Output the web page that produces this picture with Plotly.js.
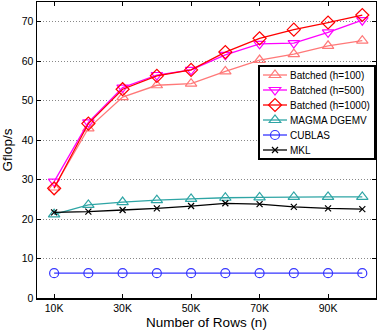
<!DOCTYPE html>
<html>
<head>
<meta charset="utf-8">
<script src="https://cdn.plot.ly/plotly-3.0.1.min.js"></script>
<style>html,body{margin:0;padding:0;background:#fff;}#chart{width:377px;height:334px;}</style>
</head>
<body>
<div id="chart"></div>
<script>
const rows = [10000, 20000, 30000, 40000, 50000, 60000, 70000, 80000, 90000, 100000];
const batched100 = [28.0, 43.0, 50.9, 53.9, 54.3, 57.4, 60.3, 61.8, 63.9, 65.2];
const batched500 = [29.5, 44.5, 53.3, 56.5, 57.8, 61.6, 64.4, 64.6, 67.3, 70.4];
const batched1000 = [27.8, 44.2, 52.9, 56.3, 57.8, 62.3, 65.8, 68.0, 69.8, 71.7];
const magma = [21.2, 23.6, 24.3, 24.8, 25.1, 25.4, 25.5, 25.6, 25.6, 25.6];
const cublas = [6.3, 6.3, 6.3, 6.3, 6.3, 6.3, 6.3, 6.3, 6.3, 6.3];
const mkl = [21.7, 21.9, 22.3, 22.7, 23.3, 24.0, 23.8, 23.1, 22.7, 22.5];
const xTickVals = [10000, 30000, 50000, 70000, 90000];
const xTickText = ['10K', '30K', '50K', '70K', '90K'];
const yTickVals = [0, 10, 20, 30, 40, 50, 60, 70];

const font = 'Liberation Sans, Arial, Helvetica, sans-serif';
function tr(name, y, color, symbol, size, lw) {
  return {
    x: rows, y: y, name: name, type: 'scatter', mode: 'lines+markers',
    line: {color: color, width: lw || 1.3},
    marker: {symbol: symbol, size: size, color: color, line: {color: color, width: 1.2}}
  };
}
const data = [
  tr('Batched (h=100)', batched100, '#FF7878', 'triangle-up-open', 10),
  tr('Batched (h=500)', batched500, '#FF00FF', 'triangle-down-open', 10),
  tr('Batched (h=1000)', batched1000, '#FF0000', 'diamond-open', 10),
  tr('MAGMA DGEMV', magma, '#2EA5A5', 'triangle-up-open', 10),
  tr('CUBLAS', cublas, '#3535FF', 'circle-open', 9),
  tr('MKL', mkl, '#000000', 'x-thin-open', 6)
];
const layout = {
  width: 377, height: 334,
  margin: {l: 37, r: 1, t: 2, b: 36},
  paper_bgcolor: '#fff', plot_bgcolor: '#fff',
  font: {family: font, size: 10.5, color: '#000'},
  showlegend: true,
  xaxis: {
    range: [5000, 104000], tickvals: xTickVals, ticktext: xTickText,
    ticks: 'inside', ticklen: 4, tickcolor: '#000', showline: true, linecolor: '#000', linewidth: 1.5,
    mirror: 'ticks', showgrid: false, zeroline: false,
    tickfont: {family: font, size: 10.5},
    title: {text: 'Number of Rows (n)', font: {family: font, size: 13.5}, standoff: 4}
  },
  yaxis: {
    range: [0, 75], tickvals: yTickVals,
    ticks: 'inside', ticklen: 4, tickcolor: '#000', showline: true, linecolor: '#000', linewidth: 1.5,
    mirror: 'ticks', showgrid: true, gridcolor: '#888', griddash: '1px,2px', gridwidth: 1, zeroline: false,
    tickfont: {family: font, size: 10.5},
    title: {text: 'Gflop/s', font: {family: font, size: 13.5}, standoff: 6}
  },
  legend: {
    x: 1, y: 0.787, xanchor: 'right', yanchor: 'top',
    bgcolor: '#fff', bordercolor: '#000', borderwidth: 2,
    font: {family: font, size: 10}, itemwidth: 30, tracegroupgap: 0
  }
};

function tightenLegend(gd) {
  const leg = gd.querySelector('g.legend');
  if (!leg) return;
  const left = 258, top = 65, w = 118, step = 15, first = 10;
  const n = leg.querySelectorAll('g.traces').length;
  const h = first + step * (n - 1) + 10;
  leg.setAttribute('transform', 'translate(' + left + ',' + top + ')');
  const bg = leg.querySelector('rect.bg');
  if (bg) {
    bg.setAttribute('x', 1); bg.setAttribute('y', 1);
    bg.setAttribute('width', w - 2); bg.setAttribute('height', h - 2);
  }
  const sb = leg.querySelector('g.scrollbox');
  if (sb) { sb.removeAttribute('clip-path'); sb.setAttribute('transform', 'translate(0,0)'); }
  const groups = leg.querySelector('g.groups');
  if (groups) groups.setAttribute('transform', 'translate(0,0)');
  leg.querySelectorAll('g.traces').forEach(function (t, i) {
    t.setAttribute('transform', 'translate(1,' + (first + step * i) + ')');
    t.querySelectorAll('g.legendlines path').forEach(function (p) { p.setAttribute('d', 'M4,0h24'); });
    t.querySelectorAll('g.legendpoints path.scatterpts').forEach(function (p) { p.setAttribute('transform', 'translate(16,0)'); });
    const txt = t.querySelector('text.legendtext');
    if (txt) txt.setAttribute('x', 31);
    const toggle = t.querySelector('rect.legendtoggle');
    if (toggle) toggle.setAttribute('width', w - 4);
  });
}

Plotly.newPlot('chart', data, layout, {displayModeBar: false, staticPlot: true}).then(function (gd) {
  tightenLegend(gd);
});
</script>
</body>
</html>
